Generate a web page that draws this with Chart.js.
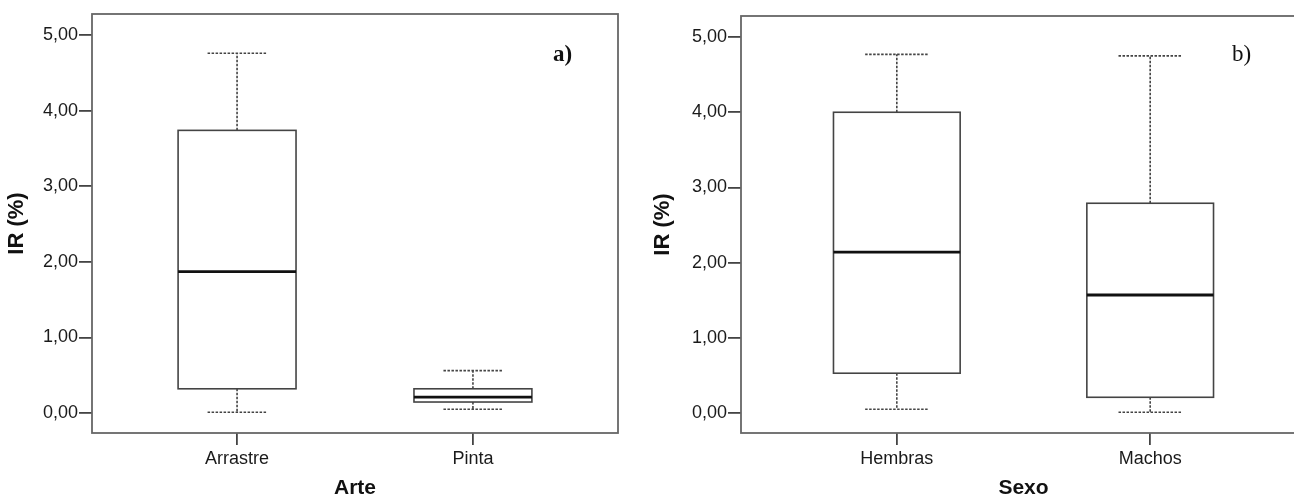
<!DOCTYPE html>
<html>
<head>
<meta charset="utf-8">
<script src="https://cdn.jsdelivr.net/npm/chart.js@4.4.1/dist/chart.umd.min.js"></script>
<style>
  html, body { margin: 0; padding: 0; background: #fff; overflow: hidden; width: 1294px; height: 500px; }
  .panel { position: absolute; top: 0; }
  #panelA { left: 0; }
  #panelB { left: 640px; }
</style>
</head>
<body>
<div class="panel" id="panelA"><canvas id="chartArte" width="640" height="500"></canvas></div>
<div class="panel" id="panelB"><canvas id="chartSexo" width="700" height="500"></canvas></div>
<script>
// IR (%) summary per group: whisker ends, quartiles, median
const yTicks = [0, 1, 2, 3, 4, 5];

const arteLabels = ['Arrastre', 'Pinta'];
const arteMin    = [0.01, 0.05];
const arteQ1     = [0.32, 0.145];
const arteMedian = [1.87, 0.21];
const arteQ3     = [3.74, 0.32];
const arteMax    = [4.76, 0.56];

const sexoLabels = ['Hembras', 'Machos'];
const sexoMin    = [0.05, 0.01];
const sexoQ1     = [0.53, 0.21];
const sexoMedian = [2.14, 1.57];
const sexoQ3     = [4.00, 2.79];
const sexoMax    = [4.77, 4.75];

const sansFont = '"Liberation Sans", Arial, sans-serif';
const serifFont = '"Liberation Serif", "Times New Roman", serif';

// draws boxes, whiskers and the frame using the chart scales
const boxPlugin = {
  id: 'boxPlot',
  afterDatasetsDraw(chart, args, opts) {
    const { ctx, chartArea, scales: { x, y } } = chart;
    const s = opts.stats;
    ctx.save();

    // frame
    ctx.strokeStyle = '#666';
    ctx.lineWidth = 1.8;
    ctx.setLineDash([]);
    ctx.strokeRect(chartArea.left, chartArea.top, chartArea.right - chartArea.left, chartArea.bottom - chartArea.top);

    s.labels.forEach((lab, i) => {
      const pos = i + 1;
      const cx = x.getPixelForValue(pos);
      const boxL = x.getPixelForValue(pos - 0.25);
      const boxR = x.getPixelForValue(pos + 0.25);
      const capL = x.getPixelForValue(pos - 0.125);
      const capR = x.getPixelForValue(pos + 0.125);
      const yMin = y.getPixelForValue(s.min[i]);
      const yQ1 = y.getPixelForValue(s.q1[i]);
      const yMed = y.getPixelForValue(s.median[i]);
      const yQ3 = y.getPixelForValue(s.q3[i]);
      const yMax = y.getPixelForValue(s.max[i]);

      // whiskers (dotted)
      ctx.strokeStyle = '#444';
      ctx.lineWidth = 1.6;
      ctx.setLineDash([2.5, 1.5]);
      ctx.beginPath();
      ctx.moveTo(cx, yQ3); ctx.lineTo(cx, yMax);
      ctx.moveTo(capL, yMax); ctx.lineTo(capR, yMax);
      ctx.moveTo(cx, yQ1); ctx.lineTo(cx, yMin);
      ctx.moveTo(capL, yMin); ctx.lineTo(capR, yMin);
      ctx.stroke();

      // box
      ctx.setLineDash([]);
      ctx.fillStyle = '#fff';
      ctx.fillRect(boxL, yQ3, boxR - boxL, yQ1 - yQ3);
      ctx.strokeStyle = '#444';
      ctx.lineWidth = 1.6;
      ctx.strokeRect(boxL, yQ3, boxR - boxL, yQ1 - yQ3);

      // median
      ctx.strokeStyle = '#111';
      ctx.lineWidth = 2.8;
      ctx.beginPath();
      ctx.moveTo(boxL, yMed); ctx.lineTo(boxR, yMed);
      ctx.stroke();
    });

    // panel tag
    ctx.fillStyle = '#111';
    ctx.font = opts.tag.font;
    ctx.textBaseline = 'alphabetic';
    ctx.textAlign = 'left';
    ctx.fillText(opts.tag.text, chartArea.right - opts.tag.dx, chartArea.top + opts.tag.dy);
    ctx.restore();
  }
};

function makeBoxChart(canvasId, stats, p) {
  const ctx = document.getElementById(canvasId).getContext('2d');
  return new Chart(ctx, {
    type: 'scatter',
    data: {
      datasets: [{
        data: stats.labels.map((l, i) => ({ x: i + 1, y: stats.median[i] })),
        pointRadius: 0,
        pointHoverRadius: 0
      }]
    },
    options: {
      responsive: false,
      animation: false,
      devicePixelRatio: 1,
      events: [],
      layout: { padding: { top: p.top, right: p.right, bottom: 0, left: 0 } },
      plugins: {
        legend: { display: false },
        tooltip: { enabled: false },
        boxPlot: { stats: stats, tag: p.tag }
      },
      scales: {
        x: {
          type: 'linear',
          min: 1 - 0.615,
          max: 2 + 0.615,
          afterFit: (scale) => { scale.height = 67; },
          afterBuildTicks: (scale) => { scale.ticks = stats.labels.map((l, i) => ({ value: i + 1 })); },
          ticks: {
            color: '#1a1a1a',
            font: { family: sansFont, size: 18 },
            padding: 3,
            maxRotation: 0,
            autoSkip: false,
            callback: (v, idx) => stats.labels[idx]
          },
          grid: { drawOnChartArea: false, drawTicks: true, tickLength: 12, color: '#444', lineWidth: 1.8 },
          border: { display: false },
          title: {
            display: true,
            text: p.xTitle,
            color: '#111',
            font: { family: sansFont, size: 21, weight: 'bold' },
            padding: { top: 0, bottom: -1 }
          }
        },
        y: {
          min: -0.265,
          max: 5.28,
          afterFit: (scale) => { scale.width = p.yWidth; },
          afterBuildTicks: (scale) => { scale.ticks = yTicks.map(v => ({ value: v })); },
          ticks: {
            color: '#1a1a1a',
            font: { family: sansFont, size: 18 },
            padding: 1,
            callback: (v) => v.toFixed(2).replace('.', ',')
          },
          grid: { drawOnChartArea: false, drawTicks: true, tickLength: 13, color: '#444', lineWidth: 1.8 },
          border: { display: false },
          title: {
            display: true,
            text: 'IR (%)',
            color: '#111',
            font: { family: sansFont, size: 22, weight: 'bold' },
            padding: { top: p.yTitlePad, bottom: 0 }
          }
        }
      }
    },
    plugins: [boxPlugin]
  });
}

makeBoxChart('chartArte', {
  labels: arteLabels, min: arteMin, q1: arteQ1, median: arteMedian, q3: arteQ3, max: arteMax
}, {
  top: 14, right: 22, yWidth: 92, yTitlePad: 4, xTitle: 'Arte',
  tag: { text: 'a)', font: 'bold 23px ' + serifFont, dx: 65, dy: 47 }
});

makeBoxChart('chartSexo', {
  labels: sexoLabels, min: sexoMin, q1: sexoQ1, median: sexoMedian, q3: sexoQ3, max: sexoMax
}, {
  top: 16, right: 34, yWidth: 101, yTitlePad: 10, xTitle: 'Sexo',
  tag: { text: 'b)', font: '23px ' + serifFont, dx: 74, dy: 45 }
});
</script>
</body>
</html>
